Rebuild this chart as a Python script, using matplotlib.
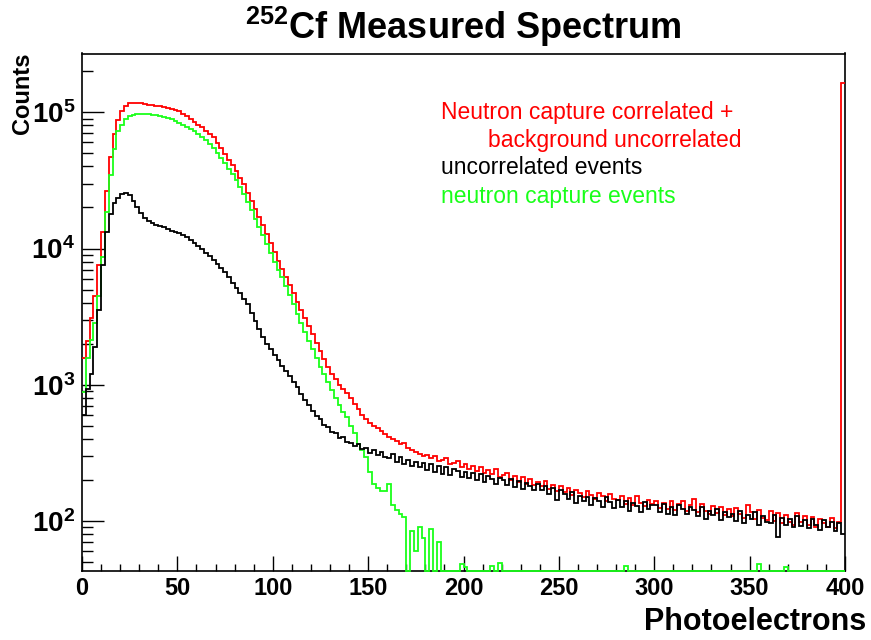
import matplotlib.pyplot as plt
import matplotlib.ticker as ticker
import numpy as np

plt.rcParams['font.family'] = ['Liberation Sans', 'DejaVu Sans']
plt.rcParams['mathtext.fontset'] = 'custom'
plt.rcParams['mathtext.rm'] = 'Liberation Sans:bold'
plt.rcParams['mathtext.it'] = 'Liberation Sans:bold'
plt.rcParams['mathtext.bf'] = 'Liberation Sans:bold'

# bin edges in photoelectrons (2 pe bins, 0..400)
x_edges = np.arange(0, 402, 2)

# neutron capture correlated + background uncorrelated
red_counts = [
    1580, 2090, 3090, 4470, 7590, 13200, 26300, 46800, 69200, 87100,
    102000, 111000, 116000, 117500, 117000, 116000, 115000, 114000, 113000, 112000,
    111000, 110000, 108000, 106500, 104000, 102000, 97700, 93300, 89100, 85100,
    81300, 77600, 73300, 69200, 65300, 59600, 54300, 49000, 44700, 40700,
    37200, 33100, 29500, 25700, 22400, 19500, 17000, 14800, 12700, 11000,
    9440, 8130, 7080, 6170, 5370, 4680, 4070, 3550, 3090, 2690,
    2340, 2040, 1780, 1550, 1350, 1200, 1100, 1000, 930, 870,
    795, 725, 660, 600, 560, 525, 500, 480, 460, 435,
    415, 398, 384, 367, 372, 345, 333, 322, 312, 300,
    305, 288, 301, 276, 282, 290, 262, 268, 274, 250,
    262, 240, 254, 232, 249, 226, 236, 220, 241, 212,
    218, 225, 200, 214, 194, 209, 188, 204, 183, 194,
    180, 196, 172, 184, 166, 181, 162, 175, 156, 170,
    161, 150, 166, 155, 145, 160, 152, 139, 157, 144,
    143, 152, 134, 147, 131, 152, 136, 128, 142, 134,
    139, 125, 136, 122, 141, 120, 133, 140, 118, 131,
    145, 116, 133, 118, 112, 129, 114, 126, 110, 123,
    108, 125, 113, 106, 130, 116, 103, 121, 106, 101,
    118, 100, 114, 96, 111, 99, 94, 115, 98, 108,
    93, 107, 90, 104, 97, 91, 105, 89, 99, 165000,
]

# uncorrelated events
black_counts = [
    600, 930, 1200, 1900, 3550, 7600, 13200, 17800, 21400, 23400,
    25100, 25700, 24500, 22400, 20000, 18200, 16800, 16000, 15500, 15000,
    14600, 14300, 14000, 13500, 13200, 12900, 12600, 12200, 11600, 11000,
    10500, 9900, 9330, 8800, 8300, 7760, 7240, 6760, 6170, 5620,
    5130, 4680, 4270, 3890, 3390, 2950, 2570, 2240, 2000, 1820,
    1660, 1510, 1380, 1260, 1150, 1050, 955, 850, 775, 710,
    640, 585, 560, 505, 490, 450, 440, 405, 410, 380,
    372, 355, 365, 335, 342, 318, 330, 305, 320, 296,
    288, 310, 270, 295, 262, 281, 255, 272, 248, 265,
    236, 262, 230, 254, 222, 248, 218, 242, 232, 212,
    230, 206, 224, 199, 220, 192, 213, 203, 188, 208,
    200, 184, 204, 178, 195, 172, 190, 182, 168, 188,
    170, 181, 158, 175, 142, 169, 158, 145, 163, 136,
    153, 139, 151, 131, 148, 140, 126, 149, 137, 124,
    143, 127, 140, 119, 136, 129, 116, 137, 123, 132,
    131, 116, 134, 113, 127, 110, 132, 122, 112, 126,
    121, 108, 126, 104, 119, 111, 123, 102, 117, 107,
    113, 100, 119, 96, 111, 104, 116, 94, 109, 99,
    97, 111, 76, 106, 94, 103, 90, 108, 92, 101,
    89, 104, 94, 86, 102, 91, 99, 84, 97, 80,
]

# neutron capture events
green_counts = [
    890, 1580, 2140, 2820, 4470, 8700, 18600, 34700, 53700, 72400,
    81300, 89100, 93300, 95500, 96400, 96600, 96600, 96400, 96000, 95300,
    94400, 92900, 91200, 89100, 86500, 83600, 80400, 77600, 75000, 72400,
    69200, 66100, 62400, 58200, 54300, 50100, 46200, 42200, 38500, 35100,
    31600, 28200, 25100, 21900, 19100, 16600, 14500, 12600, 10800, 9330,
    7940, 6920, 6170, 5310, 4570, 3890, 3310, 2850, 2450, 2110,
    1820, 1580, 1360, 1200, 1050, 910, 795, 710, 630, 575,
    500, 445, 370, 330, 295, 230, 186, 174, 166, 166,
    186, 132, 120, 112, 107, 0, 85, 60, 90, 75,
    0, 88, 0, 70, 0, 0, 0, 0, 0, 48,
    46, 0, 0, 0, 0, 0, 0, 47, 0, 49,
    0, 0, 0, 0, 0, 0, 0, 0, 0, 0,
    0, 0, 0, 0, 0, 0, 0, 0, 0, 0,
    0, 0, 0, 0, 0, 0, 0, 0, 0, 0,
    0, 0, 47, 0, 0, 0, 0, 0, 0, 0,
    0, 0, 0, 0, 0, 0, 0, 0, 0, 0,
    0, 0, 0, 0, 0, 0, 0, 0, 0, 0,
    0, 0, 0, 0, 0, 0, 0, 48, 0, 0,
    0, 0, 0, 0, 46, 0, 0, 0, 0, 0,
    0, 0, 0, 0, 0, 0, 0, 0, 0, 0,
]

legend_lines = ['Neutron capture correlated +', 'background uncorrelated',
                'uncorrelated events', 'neutron capture events']

y_min, y_max = 43.3, 2.7e5
red = '#ff0000'
green = '#1aff1a'

fig = plt.figure(figsize=(8.71, 6.4), dpi=100)
ax = fig.add_axes([82 / 871, 1 - 570.5 / 640, 763 / 871, (570.5 - 53.5) / 640])


def floor(vals):
    # empty bins sit on the bottom of the frame, like ROOT draws them
    v = np.asarray(vals, dtype=float)
    return np.where(v > 0, v, y_min)


ax.stairs(floor(red_counts), x_edges, baseline=None, color=red, linewidth=1.3, zorder=3)
ax.stairs(floor(green_counts), x_edges, baseline=None, color=green, linewidth=1.3, zorder=4,
          clip_on=False)
ax.stairs(floor(black_counts), x_edges, baseline=None, color='black', linewidth=1.3, zorder=5)

ax.set_yscale('log')
ax.set_xlim(0, 400)
ax.set_ylim(y_min, y_max)

# ROOT style ticks: inside, bottom/left only
ax.xaxis.set_major_locator(ticker.MultipleLocator(50))
ax.xaxis.set_minor_locator(ticker.MultipleLocator(10))
ax.yaxis.set_major_locator(ticker.LogLocator(base=10))
ax.yaxis.set_minor_locator(ticker.LogLocator(base=10, subs=np.arange(2, 10)))
ax.yaxis.set_minor_formatter(ticker.NullFormatter())
ax.yaxis.set_major_formatter(ticker.FuncFormatter(
    lambda v, pos: r'$\mathrm{10^{%d}}$' % round(np.log10(v))))

ax.tick_params(axis='x', which='major', direction='in', length=10.8, width=1.0, pad=5,
               labelsize=17)
ax.tick_params(axis='x', which='minor', direction='in', length=5.4, width=1.0)
ax.tick_params(axis='y', which='major', direction='in', length=15.8, width=1.0, pad=5,
               labelsize=20)
ax.tick_params(axis='y', which='minor', direction='in', length=7.9, width=1.0)
for lab in ax.get_xticklabels():
    lab.set_fontweight('bold')
for s in ax.spines.values():
    s.set_linewidth(1.2)

fig.text(463.5 / 871, 1 - 27 / 640, r'$\mathrm{^{252}}$Cf Measured Spectrum',
         ha='center', va='center', fontsize=26, fontweight='bold')
fig.text(22 / 871, 1 - 53 / 640, 'Counts', rotation=90, ha='center', va='top',
         fontsize=17, fontweight='bold')
fig.text(866 / 871, 1 - 622 / 640, 'Photoelectrons', ha='right', va='center',
         fontsize=22, fontweight='bold')

# text legend
fig.text(441 / 871, 1 - 113 / 640, legend_lines[0], color=red, fontsize=16.5, va='center')
fig.text(741 / 871, 1 - 140 / 640, legend_lines[1], color=red, fontsize=16.5, va='center',
         ha='right')
fig.text(441 / 871, 1 - 168 / 640, legend_lines[2], color='black', fontsize=16.5, va='center')
fig.text(441 / 871, 1 - 196 / 640, legend_lines[3], color=green, fontsize=16.5, va='center')

fig.savefig('out.png', dpi=100)
